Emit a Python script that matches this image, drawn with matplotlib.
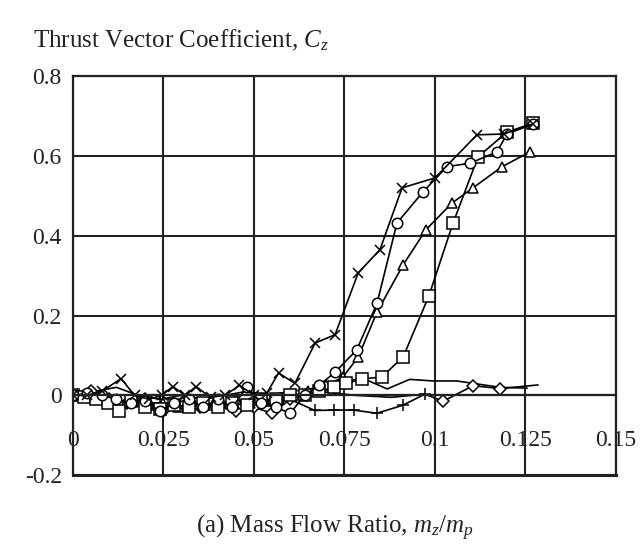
import matplotlib
matplotlib.use('Agg')
import matplotlib.pyplot as plt

plt.rcParams['font.family'] = ['Liberation Serif', 'DejaVu Serif']
plt.rcParams['mathtext.fontset'] = 'custom'
plt.rcParams['mathtext.rm'] = 'Liberation Serif'
plt.rcParams['mathtext.it'] = 'Liberation Serif:italic'

TITLE = 'Thrust Vector Coefficient, $C_z$'
XLABEL = '(a) Mass Flow Ratio, $m_z/m_p$'

x_ticks = [0, 0.025, 0.05, 0.075, 0.1, 0.125, 0.15]
x_tick_labels = ['0', '0.025', '0.05', '0.075', '0.1', '0.125', '0.15']
y_ticks = [-0.2, 0, 0.2, 0.4, 0.6, 0.8]
y_tick_labels = ['-0.2', '0', '0.2', '0.4', '0.6', '0.8']

# crosses
x_cross = [0, 0.004, 0.008, 0.0133, 0.017, 0.021, 0.0245, 0.0276, 0.031, 0.034, 0.038, 0.042, 0.046,
           0.05, 0.0535, 0.0568, 0.0613, 0.0669, 0.0724, 0.0788, 0.0848, 0.0909, 0.1, 0.1116, 0.119, 0.127]
y_cross = [0, 0.0, 0.01, 0.042, 0.0, -0.01, 0.0, 0.022, 0.0, 0.022, -0.005, 0.0, 0.025,
           0.0, 0.005, 0.056, 0.03, 0.131, 0.152, 0.307, 0.365, 0.52, 0.545, 0.653, 0.655, 0.68]

# circles
x_circ = [0, 0.004, 0.008, 0.012, 0.016, 0.02, 0.024, 0.028, 0.032, 0.036, 0.04, 0.044, 0.048, 0.052,
          0.056, 0.06, 0.064, 0.068, 0.0724, 0.0784, 0.084, 0.0895, 0.0967, 0.1033, 0.1097, 0.1171, 0.1199, 0.127]
y_circ = [0, 0.005, 0.0, -0.01, -0.02, -0.015, -0.04, -0.02, -0.01, -0.03, -0.01, -0.03, 0.02, -0.02,
          -0.03, -0.045, 0.0, 0.025, 0.058, 0.114, 0.231, 0.432, 0.51, 0.573, 0.582, 0.61, 0.655, 0.68]

# triangles
x_tri = [0, 0.005, 0.009, 0.013, 0.017, 0.021, 0.025, 0.029, 0.033, 0.037, 0.041, 0.045, 0.049, 0.053,
         0.057, 0.061, 0.065, 0.07, 0.0745, 0.0788, 0.084, 0.0912, 0.0975, 0.1047, 0.1105, 0.1185, 0.1262]
y_tri = [0, -0.005, -0.01, -0.02, -0.015, -0.025, -0.02, -0.03, -0.015, -0.025, -0.02, -0.01, -0.02, -0.015,
         -0.01, 0.0, 0.01, 0.025, 0.045, 0.096, 0.209, 0.327, 0.415, 0.482, 0.52, 0.573, 0.61]

# squares
x_sq = [0, 0.003, 0.0065, 0.0097, 0.0127, 0.016, 0.02, 0.024, 0.028, 0.032, 0.036, 0.04, 0.044, 0.048,
        0.052, 0.056, 0.06, 0.064, 0.068, 0.072, 0.0755, 0.0798, 0.0853, 0.0912, 0.0983, 0.105, 0.1119, 0.1199, 0.1271]
y_sq = [0, -0.005, -0.01, -0.02, -0.04, -0.015, -0.03, -0.035, -0.025, -0.03, -0.02, -0.03, -0.02, -0.025,
        -0.01, -0.01, 0.0, 0.0, 0.01, 0.02, 0.03, 0.041, 0.046, 0.096, 0.249, 0.432, 0.598, 0.66, 0.682]

# diamonds
x_dia = [0, 0.005, 0.01, 0.015, 0.02, 0.025, 0.03, 0.035, 0.04, 0.045, 0.05, 0.055, 0.06,
         0.068, 0.078, 0.088, 0.0972, 0.1022, 0.1105, 0.118, 0.1284]
y_dia = [0, 0.01, -0.01, -0.02, -0.01, -0.04, -0.02, -0.03, -0.02, -0.04, -0.03, -0.045, -0.01,
         0.01, 0.0, -0.005, 0.003, -0.015, 0.024, 0.017, 0.026]
dia_marks = [0, 1, 2, 3, 4, 5, 6, 7, 8, 9, 10, 11, 12, 17, 18, 19]

# plus
x_plus = [0, 0.004, 0.008, 0.012, 0.016, 0.02, 0.024, 0.028, 0.032, 0.036, 0.04, 0.044, 0.048, 0.052,
          0.056, 0.06, 0.0668, 0.0721, 0.0776, 0.0839, 0.0911, 0.0972]
y_plus = [0, -0.005, -0.01, -0.015, -0.02, -0.025, -0.02, -0.02, -0.025, -0.02, -0.03, -0.02, -0.025, -0.015,
          -0.02, -0.01, -0.038, -0.037, -0.037, -0.045, -0.025, 0.003]

# plain line
x_dash = [0, 0.006, 0.012, 0.018, 0.024, 0.03, 0.036, 0.042, 0.048, 0.054, 0.06, 0.065, 0.07, 0.075,
          0.08, 0.0868, 0.093, 0.0995, 0.106, 0.112, 0.118, 0.1254]
y_dash = [0, 0.01, 0.02, 0.0, -0.01, 0.0, -0.01, 0.0, 0.01, 0.0, 0.01, 0.015, 0.025, 0.035,
          0.043, 0.016, 0.04, 0.036, 0.036, 0.028, 0.02, 0.018]

fig = plt.figure(figsize=(6.4, 5.48), dpi=100)
ax = fig.add_axes([0.114, 0.133, 0.8485, 0.728])

line_kw = dict(color='black', lw=1.2, mfc='white', mec='black', mew=1.1)
ax.plot(x_dash, y_dash, **line_kw)
ax.plot(x_plus, y_plus, marker='+', ms=8, **line_kw)
ax.plot(x_dia, y_dia, marker='D', ms=6, markevery=dia_marks, **line_kw)
ax.plot(x_tri, y_tri, marker='^', ms=7.5, **line_kw)
ax.plot(x_sq, y_sq, marker='s', ms=8, **line_kw)
ax.plot(x_circ, y_circ, marker='o', ms=7.5, **line_kw)
ax.plot(x_cross, y_cross, marker='x', ms=7.5, **line_kw)

ax.set_xlim(0, 0.15)
ax.set_ylim(-0.2, 0.8)
ax.set_xticks(x_ticks)
ax.set_xticklabels(x_tick_labels)
ax.set_yticks(y_ticks)
ax.set_yticklabels(y_tick_labels)
ax.grid(True, color='#222222', lw=1.5)
ax.set_axisbelow(True)

for s in ax.spines.values():
    s.set_color('#222222')
    s.set_linewidth(1.6)
ax.spines['bottom'].set_position(('data', 0))
ax.axhline(-0.2, color='#222222', lw=2.2, clip_on=False, zorder=0.5)

ax.tick_params(axis='both', length=0, labelsize=17, colors='#222222')
ax.tick_params(axis='x', pad=25)
ax.tick_params(axis='y', pad=8)

fig.text(0.052, 0.927, TITLE, fontsize=18, va='center', ha='left', color='#222222')
fig.text(0.523, 0.036, XLABEL, fontsize=18, va='center', ha='center', color='#222222')

fig.savefig('out.png', dpi=100)
